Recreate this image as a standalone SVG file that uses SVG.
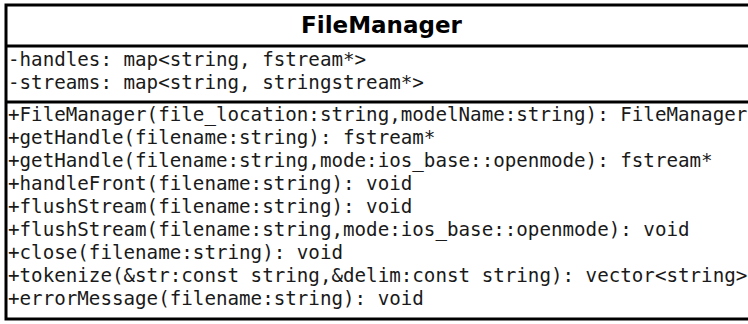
<svg xmlns="http://www.w3.org/2000/svg" width="748" height="324" viewBox="0 0 748 324">
  <style>
    .frame { fill: #ffffff; stroke: #000000; stroke-width: 3; }
    .sep { stroke: #000000; stroke-width: 3; }
    .title { font-family: "DejaVu Sans", sans-serif; font-weight: bold; font-size: 23px; fill: #000000; }
    .member { font-family: "DejaVu Sans Mono", monospace; font-size: 19.2px; fill: #1a1a1a; }
  </style>
  <rect width="748" height="324" fill="#ffffff"/>
  <g id="FileManager">
    <rect class="frame" x="6" y="5" width="752" height="314"/>
    <line class="sep" x1="6" y1="46" x2="758" y2="46"/>
    <line class="sep" x1="6" y1="102" x2="758" y2="102"/>
    <text class="title" x="381.5" y="33" text-anchor="middle">FileManager</text>
    <g id="attributes">
      <text class="member" x="8" y="66">-handles: map&lt;string, fstream*&gt;</text>
      <text class="member" x="8" y="89">-streams: map&lt;string, stringstream*&gt;</text>
    </g>
    <g id="operations">
      <text class="member" x="8" y="121">+FileManager(file_location:string,modelName:string): FileManager</text>
      <text class="member" x="8" y="144">+getHandle(filename:string): fstream*</text>
      <text class="member" x="8" y="167">+getHandle(filename:string,mode:ios_base::openmode): fstream*</text>
      <text class="member" x="8" y="190">+handleFront(filename:string): void</text>
      <text class="member" x="8" y="213">+flushStream(filename:string): void</text>
      <text class="member" x="8" y="236">+flushStream(filename:string,mode:ios_base::openmode): void</text>
      <text class="member" x="8" y="259">+close(filename:string): void</text>
      <text class="member" x="8" y="282">+tokenize(&amp;str:const string,&amp;delim:const string): vector&lt;string&gt;</text>
      <text class="member" x="8" y="305">+errorMessage(filename:string): void</text>
    </g>
  </g>
  <g id="connectors"/>
</svg>
